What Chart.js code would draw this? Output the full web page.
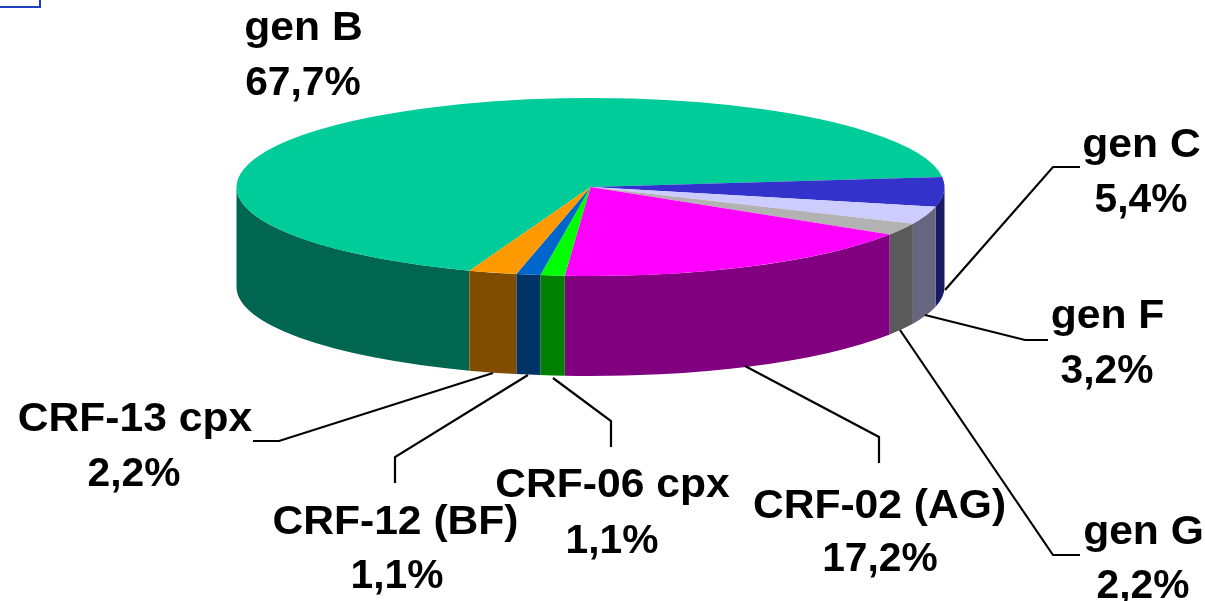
<!DOCTYPE html>
<html>
<head>
<meta charset="utf-8">
<style>html,body{margin:0;padding:0;background:#fff}canvas{display:block}</style>
<script src="https://cdn.jsdelivr.net/npm/chart.js@4"></script>
</head>
<body>
<canvas id="c" width="1205" height="601"></canvas>
<script>
const categories = ['gen B','gen C','gen F','gen G','CRF-02 (AG)','CRF-06 cpx','CRF-12 (BF)','CRF-13 cpx'];
const values = [67.7,5.4,3.2,2.2,17.2,1.1,1.1,2.2];
const topColors = ['#00CC99','#3333CC','#CCCCFF','#B2B2B2','#FF00FF','#00FF00','#0066CC','#FF9900'];
const sideColors = ['#006650','#1A1A66','#666680','#5A5A5A','#800080','#008000','#003366','#804D00'];
// label anchors: [centre x, baseline of name, centre x of value, baseline of value]
const labelAnchors = [
  [303.5,40,303,95],[1141.5,157,1141,212],[1107.5,328,1107,383],[1143.5,544,1143,598],
  [879.5,518,880,571],[612.5,497,612,553],[395.5,534,397,588],[135,431,134,486]
];
const leaderLines = [
  null,
  [[945,290],[1053,167],[1080,167]],
  [[925,315],[1025,340],[1048,340]],
  [[900,330],[1053,555],[1080,555]],
  [[745,366],[879,437],[879,463]],
  [[553,378],[611,421],[611,447]],
  [[528,375],[395,457],[395,483]],
  [[493,373],[279,441],[253,441]]
];
const pieShape = {cx:590.5, cy:187, rx:354, ry:89, depth:100};
const nameStretch = 1.065, valueStretch = 1.02;
const fmt = v => v.toFixed(1).replace('.',',') + '%';

function stretchedText(ctx, text, x, y, sx){
  ctx.save();
  ctx.translate(x, y);
  ctx.scale(sx, 1);
  ctx.fillText(text, 0, 0);
  ctx.restore();
}

const pie3d = {
  id:'pie3d',
  beforeDatasetsDraw(chart){
    const ctx = chart.ctx, s = pieShape, arcs = chart.getDatasetMeta(0).data;
    ctx.save();
    // side walls
    arcs.forEach((el,i)=>{
      const {startAngle:a,endAngle:b} = el.getProps(['startAngle','endAngle'],true);
      for(let k=-2;k<=2;k++){
        const lo = Math.max(a, 2*Math.PI*k), hi = Math.min(b, Math.PI+2*Math.PI*k);
        if(hi<=lo) continue;
        ctx.beginPath();
        ctx.ellipse(s.cx,s.cy,s.rx,s.ry,0,lo,hi);
        ctx.ellipse(s.cx,s.cy+s.depth,s.rx,s.ry,0,hi,lo,true);
        ctx.closePath();
        ctx.fillStyle = sideColors[i];
        ctx.fill();
      }
    });
    // squash the library's own arcs to the elliptical top
    const el = arcs[0], R = el.outerRadius;
    ctx.translate(s.cx,s.cy);
    ctx.scale(s.rx/R,s.ry/R);
    ctx.translate(-el.x,-el.y);
  },
  afterDatasetsDraw(chart){
    chart.ctx.restore();
  },
  afterDraw(chart){
    const ctx = chart.ctx;
    ctx.save();
    // corner of a box cut off at the top left
    ctx.strokeStyle='#1F3FBF'; ctx.lineWidth=2;
    ctx.beginPath(); ctx.moveTo(0,7); ctx.lineTo(40,7); ctx.lineTo(40,0); ctx.stroke();
    ctx.strokeStyle='#000'; ctx.lineWidth=2.2;
    leaderLines.forEach(l=>{
      if(!l) return;
      ctx.beginPath();
      l.forEach((p,j)=> j?ctx.lineTo(p[0],p[1]):ctx.moveTo(p[0],p[1]));
      ctx.stroke();
    });
    ctx.fillStyle='#000';
    ctx.font='bold 40px "Liberation Sans", Arial, sans-serif';
    ctx.textAlign='center'; ctx.textBaseline='alphabetic';
    categories.forEach((n,i)=>{
      const a = labelAnchors[i];
      stretchedText(ctx,n,a[0],a[1],nameStretch);
      stretchedText(ctx,fmt(values[i]),a[2],a[3],valueStretch);
    });
    ctx.restore();
  }
};

new Chart(document.getElementById('c'),{
  type:'pie',
  data:{labels:categories,datasets:[{data:values,backgroundColor:topColors,borderWidth:0}]},
  options:{
    responsive:false,
    animation:false,
    rotation:-160,
    plugins:{legend:{display:false},tooltip:{enabled:false},title:{display:false}}
  },
  plugins:[pie3d]
});
</script>
</body>
</html>
